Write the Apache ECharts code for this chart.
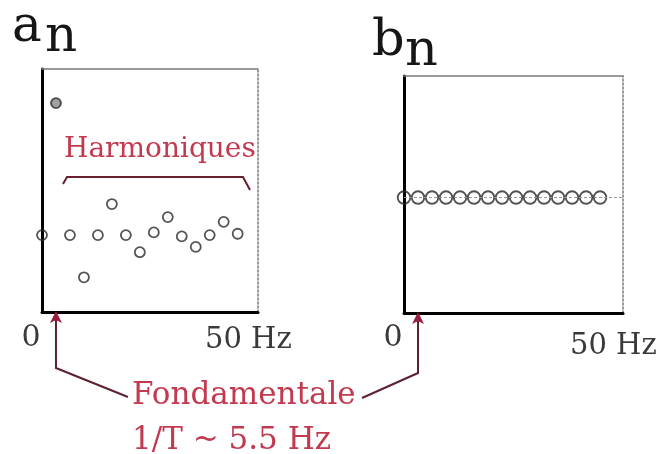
<!DOCTYPE html>
<html>
<head>
<meta charset="utf-8">
<script src="https://cdn.jsdelivr.net/npm/echarts@6/dist/echarts.min.js"></script>
<style>
  html, body { margin: 0; padding: 0; background: #fff; }
  #chart { width: 659px; height: 454px; }
</style>
</head>
<body>
<div id="chart"></div>
<script>
// Harmonic frequencies (Hz) of the Fourier series, fundamental 1/T ~ 5.5 Hz
const freqHz = [0, 5.5, 11, 16.5, 22, 27.5, 33, 38.5, 44, 49.5, 55, 60.5, 66, 71.5, 77];
// Cosine coefficients a_n
const anValues = [0, 1.0, 0, -0.32, 0, 0.235, 0, -0.13, 0.02, 0.136, -0.01, -0.09, 0, 0.10, 0.01];
// Sine coefficients b_n
const bnValues = [0, 0, 0, 0, 0, 0, 0, 0, 0, 0, 0, 0, 0, 0, 0];
// Frequency-axis labels
const tickLabels = ['0', '50 Hz'];
const fundamentalHz = 5.5;

const SERIF = '"DejaVu Serif", "Liberation Serif", serif';
const INK = '#161616';
const RED = '#c23a50';
const MAROON = '#5c2230';

const chart = echarts.init(document.getElementById('chart'));

const bare = {
  axisLabel: { show: false },
  axisTick: { show: false },
  splitLine: { show: false }
};
function frameAxis(extra, color, width, type) {
  return Object.assign({ type: 'value' }, bare, extra, {
    axisLine: { onZero: false, lineStyle: { color: color, width: width, type: type || 'solid' } }
  });
}

const anData = freqHz.map((f, i) =>
  f === fundamentalHz
    ? { value: [f, anValues[i]], itemStyle: { color: '#8a8a8a' } }
    : [f, anValues[i]]
);
const bnData = freqHz.map((f, i) => [f, bnValues[i]]);

chart.setOption({
  animation: false,
  backgroundColor: '#ffffff',
  grid: [
    { left: 42, top: 69, width: 216, height: 243 },
    { left: 404, top: 76, width: 219, height: 237 }
  ],
  xAxis: [
    frameAxis({ gridIndex: 0, min: 0, max: 85, position: 'bottom' }, '#000', 3),
    frameAxis({ gridIndex: 0, min: 0, max: 85, position: 'top' }, '#7a7a7a', 1.5),
    frameAxis({ gridIndex: 1, min: 0, max: 86, position: 'bottom' }, '#000', 3),
    frameAxis({ gridIndex: 1, min: 0, max: 86, position: 'top' }, '#7a7a7a', 1.5)
  ],
  yAxis: [
    frameAxis({ gridIndex: 0, min: -0.583, max: 1.258, position: 'left' }, '#000', 3),
    frameAxis({ gridIndex: 0, min: -0.583, max: 1.258, position: 'right' }, '#7a7a7a', 1.5, [2, 2]),
    frameAxis({ gridIndex: 1, min: -0.95, max: 1, position: 'left' }, '#000', 3),
    frameAxis({ gridIndex: 1, min: -0.95, max: 1, position: 'right' }, '#7a7a7a', 1.5, [2, 2])
  ],
  series: [
    {
      name: 'an', type: 'scatter', xAxisIndex: 0, yAxisIndex: 0,
      symbol: 'circle', symbolSize: 10,
      itemStyle: { color: 'rgba(255,255,255,0)', borderColor: '#2a2a2a', borderWidth: 1.8 },
      data: anData
    },
    {
      name: 'bn', type: 'scatter', xAxisIndex: 2, yAxisIndex: 2,
      symbol: 'circle', symbolSize: 12.5,
      itemStyle: { color: 'rgba(255,255,255,0)', borderColor: '#262626', borderWidth: 1.9 },
      data: bnData,
      markLine: {
        silent: true, symbol: 'none', label: { show: false },
        lineStyle: { color: '#9a9a9a', width: 1, type: [3, 2] },
        data: [{ yAxis: 0 }]
      }
    }
  ]
});

// Annotation layer: titles, frequency labels, brace and arrows
const leftFund = chart.convertToPixel({ xAxisIndex: 0, yAxisIndex: 0 }, [fundamentalHz, 0]);
const rightFund = chart.convertToPixel({ xAxisIndex: 2, yAxisIndex: 2 }, [fundamentalHz, 0]);
const leftBase = chart.convertToPixel({ xAxisIndex: 0, yAxisIndex: 0 }, [0, -0.583])[1];
const rightBase = chart.convertToPixel({ xAxisIndex: 2, yAxisIndex: 2 }, [0, -0.95])[1];

function txt(text, x, y, size, fill, align) {
  return {
    type: 'text', z: 100, x: x, y: y,
    style: {
      text: text, font: size + 'px ' + SERIF, fill: fill,
      align: align || 'left', verticalAlign: 'middle',
      textAlign: align || 'left', textVerticalAlign: 'middle'
    }
  };
}
function arrowHead(x, y) {
  return {
    type: 'polygon', z: 101,
    shape: { points: [[x, y - 1], [x - 6, y + 11], [x, y + 8], [x + 6, y + 11]] },
    style: { fill: '#9c1c3e' }
  };
}

const lx = leftFund[0];
const rx = rightFund[0];

chart.setOption({
  graphic: [
    txt('a', 12, 28, 50, INK),
    txt('n', 45, 38, 50, INK),
    txt('b', 372, 42, 51, INK),
    txt('n', 405, 52, 51, INK),

    txt(tickLabels[0], 31, 338, 30, '#3a3a3a', 'center'),
    txt(tickLabels[1], 205, 340, 29, '#3a3a3a'),
    txt(tickLabels[0], 393, 338, 30, '#3a3a3a', 'center'),
    txt(tickLabels[1], 570, 346, 29, '#3a3a3a'),

    txt('Harmoniques', 64, 150, 28, RED),
    {
      type: 'polyline', z: 100,
      shape: { points: [[63, 184], [67, 177], [243, 177], [250, 190]] },
      style: { stroke: '#6a1f2e', lineWidth: 2, fill: null }
    },

    txt('Fondamentale', 132, 396, 31, RED),
    txt('1/T ~ 5.5 Hz', 132, 441, 31, RED),

    {
      type: 'polyline', z: 100,
      shape: { points: [[128, 397], [lx, 368], [lx, leftBase + 6]] },
      style: { stroke: MAROON, lineWidth: 2, fill: null }
    },
    arrowHead(lx, leftBase),
    {
      type: 'polyline', z: 100,
      shape: { points: [[362, 398], [rx, 373], [rx, rightBase + 6]] },
      style: { stroke: MAROON, lineWidth: 2, fill: null }
    },
    arrowHead(rx, rightBase)
  ]
});
</script>
</body>
</html>
